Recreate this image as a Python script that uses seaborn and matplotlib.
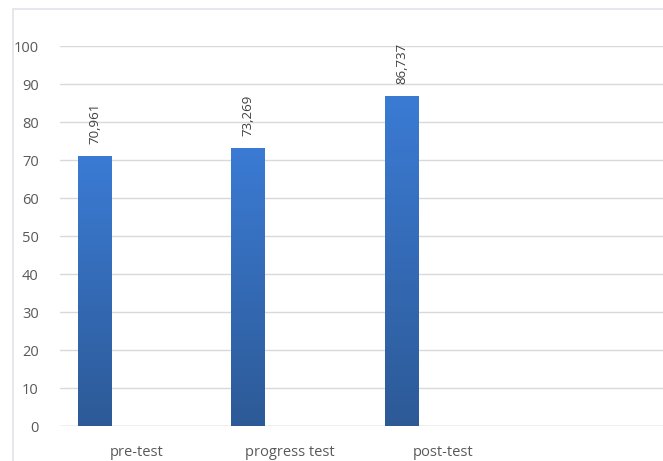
import numpy as np
import pandas as pd
import matplotlib
matplotlib.use("Agg")
import matplotlib.pyplot as plt
import matplotlib.patches as mpatches
from matplotlib.colors import LinearSegmentedColormap
import seaborn as sns

# Test results
tests = ["pre-test", "progress test", "post-test"]
scores = [70.961, 73.269, 86.737]
value_labels = ["70,961", "73,269", "86,737"]
y_ticks = [0, 10, 20, 30, 40, 50, 60, 70, 80, 90, 100]

df = pd.DataFrame({"test": tests, "score": scores})

sns.set_theme(style="white")
plt.rcParams["font.family"] = ["Open Sans", "DejaVu Sans"]

W, H = 663, 461
fig = plt.figure(figsize=(W / 100, H / 100), dpi=100)
fig.patch.set_facecolor("white")

# chart border (only top and left edges fall inside the image)
fig.add_artist(mpatches.Rectangle((12.5 / W, -0.1), 1.2, 1.1 - 9.5 / H,
                                  transform=fig.transFigure, fill=False,
                                  edgecolor="#dfe3e8", linewidth=1.2))

ax_left = 59.5 / W
ax_bottom = 35 / H
ax_top = 46 / H
ax = fig.add_axes([ax_left, ax_bottom, 1 - ax_left, 1 - ax_bottom - ax_top])

band = 153.5  # px per category
bar_w = 34 / band
shift = -41.5 / band

pos = np.arange(len(tests)) + shift
sns.barplot(x=pos, y=df["score"], native_scale=True, width=bar_w,
            color="#3a72c0", ax=ax, errorbar=None, zorder=3)

# vertical gradient fill for each bar
cmap = LinearSegmentedColormap.from_list("bar", ["#2d5a97", "#3b7bd4"])
grad = np.linspace(0, 1, 256).reshape(-1, 1)
for p in ax.patches:
    x0, y0 = p.get_x(), p.get_y()
    w, h = p.get_width(), p.get_height()
    p.set_edgecolor("none")
    im = ax.imshow(grad, cmap=cmap, origin="lower", aspect="auto",
                   extent=(x0, x0 + w, y0, y0 + h), zorder=4,
                   interpolation="bicubic")
    im.set_clip_path(p)

xmax = -0.5 + (W - 59.5) / band
ax.set_xlim(-0.5, xmax)
ax.set_ylim(0, 100)

ax.set_xticks(np.arange(len(tests)))
ax.set_xticklabels(tests)
ax.set_yticks(y_ticks)
ax.set_yticklabels([str(v) for v in y_ticks])
ax.tick_params(axis="x", length=0, pad=14, labelsize=10.5, labelcolor="#595959")
ax.tick_params(axis="y", length=0, pad=15, labelsize=10.5, labelcolor="#595959")
ax.set_xlabel("")
ax.set_ylabel("")

ax.grid(axis="y", color="#d9d9d9", linewidth=1.0, zorder=0)
ax.grid(axis="x", visible=False)
for s in ax.spines.values():
    s.set_visible(False)
ax.axhline(0, color="#d0d0d0", linewidth=1.0, zorder=2)

for x, v, lab in zip(pos, scores, value_labels):
    ax.annotate(lab, (x, v), xytext=(0, 12), textcoords="offset pixels",
                rotation=90, ha="center", va="bottom", fontsize=9.5,
                color="#404040", annotation_clip=False)

fig.savefig("out.png", dpi=100)
